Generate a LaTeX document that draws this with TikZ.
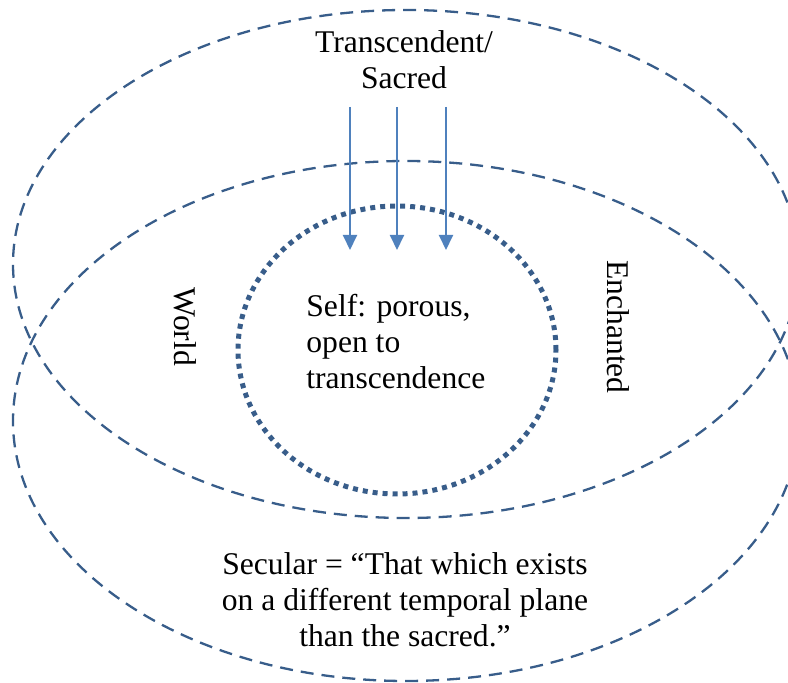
\documentclass[tikz,border=0pt]{standalone}
\usepackage{fontspec}
\setmainfont{Liberation Serif}
\usetikzlibrary{shapes.geometric,arrows.meta}
\definecolor{ringblue}{RGB}{56,93,138}
\definecolor{rayblue}{RGB}{79,129,189}
\tikzset{ring/.style={ellipse,draw=ringblue,line width=1.15pt,dash pattern=on 6.5pt off 4pt,inner sep=0pt},
self ring/.style={ellipse,draw=ringblue,line width=2.5pt,dash pattern=on 2.5pt off 2.5pt,inner sep=0pt},
ray/.style={draw=rayblue,line width=1pt,-{Triangle[width=7pt,length=7.5pt]}},
caption text/.style={font=\fontsize{15.8}{18}\selectfont,inner sep=0pt,align=#1},
caption text/.default=center}

\begin{document}
\begin{tikzpicture}[x=0.5pt,y=-0.5pt]
\useasboundingbox (0,0) rectangle (788,683);
\node[ring,minimum width=393pt,minimum height=254pt] (sacred) at (406,264) {};
\node[ring,minimum width=393pt,minimum height=260pt] (secular) at (406,421) {};
\node[self ring,minimum width=159pt,minimum height=144pt] (self) at (397,350) {};
\node[caption text,anchor=base] (transcendent) at (404,89) {Transcendent/\\ Sacred};
\node[caption text,rotate=-90] (world) at (185,327) {World};
\node[caption text,rotate=-90] (enchanted) at (618,327) {Enchanted};
\node[caption text=left,anchor=base west] (porous) at (306,389) {Self: porous,\\ open to\\ transcendence};
\node[caption text,anchor=base] (definition) at (405,647) {Secular = “That which exists\\ on a different temporal plane\\ than the sacred.”};
\coordinate (ray left top) at (350,107);
\coordinate (ray left tip) at (350,250);
\coordinate (ray mid top) at (397,107);
\coordinate (ray mid tip) at (397,250);
\coordinate (ray right top) at (446,107);
\coordinate (ray right tip) at (446,250);
\draw[ray] (ray left top) -- (ray left tip);
\draw[ray] (ray mid top) -- (ray mid tip);
\draw[ray] (ray right top) -- (ray right tip);
\end{tikzpicture}
\end{document}
